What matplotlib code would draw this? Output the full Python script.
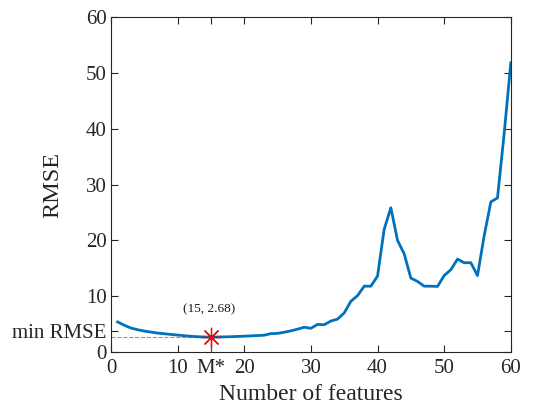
import numpy as np
import matplotlib.pyplot as plt

plt.rcParams["font.family"] = ["Liberation Serif", "DejaVu Serif"]

# RMSE per number of features
n_features = np.arange(1, 61)
rmse = [5.4, 4.8, 4.3, 4.0, 3.76, 3.58, 3.4, 3.28, 3.16, 3.04,
        2.93, 2.82, 2.75, 2.70, 2.68, 2.70, 2.72, 2.75, 2.80, 2.84,
        2.90, 2.95, 3.02, 3.3, 3.35, 3.55, 3.8, 4.1, 4.45, 4.25,
        4.95, 4.9, 5.55, 5.9, 7.0, 9.1, 10.1, 11.8, 11.8, 13.6,
        22.0, 25.85, 20.0, 17.6, 13.25, 12.65, 11.8, 11.8, 11.75, 13.7,
        14.75, 16.65, 16.0, 16.0, 13.7, 20.8, 26.9, 27.6, 39.1, 51.8]

best_m = 15
best_rmse = 2.68
min_tick = 3.7  # position of the "min RMSE" tick label

x_ticks = [0, 10, 15, 20, 30, 40, 50, 60]
x_ticklabels = ["0", "10", "M*", "20", "30", "40", "50", "60"]
y_ticks = [0, min_tick, 10, 20, 30, 40, 50, 60]
y_ticklabels = ["0", "min RMSE", "10", "20", "30", "40", "50", "60"]

fig = plt.figure(figsize=(5.36, 4.07), dpi=100)
ax = fig.add_axes([0.207, 0.135, 0.746, 0.823])

ax.plot(n_features, rmse, color="#0072BD", linewidth=2)

# guide lines to the minimum
ax.plot([0, best_m], [best_rmse, best_rmse], color="#FF0000", linestyle="--",
        linewidth=0.8, alpha=0.6)
ax.plot([best_m, best_m], [0, best_rmse], color="#FF0000", linewidth=0.8)
ax.plot(best_m, best_rmse, marker=(8, 2, 0), color="#FF0000", markersize=14,
        markeredgewidth=0.9, linestyle="none")
ax.text(best_m - 0.3, best_rmse + 3.9, f"({best_m}, {best_rmse})", fontsize=9.5,
        ha="center", va="bottom", color="#1a1a1a")

ax.set_xlim(0, 60)
ax.set_ylim(0, 60)
ax.set_xticks(x_ticks)
ax.set_xticklabels(x_ticklabels)
ax.set_yticks(y_ticks)
ax.set_yticklabels(y_ticklabels)

ax.tick_params(direction="in", top=True, right=True, labelsize=15,
               length=5, width=0.8, colors="#262626")
ax.tick_params(axis="x", pad=5)
ax.tick_params(axis="y", pad=3)
for sp in ax.spines.values():
    sp.set_color("#262626")
    sp.set_linewidth(0.8)

ax.set_xlabel("Number of features", fontsize=17, color="#262626", labelpad=4)
ax.set_ylabel("RMSE", fontsize=17.5, color="#262626")
ax.yaxis.set_label_coords(-0.12, 0.5)

fig.savefig("out.png", dpi=100)
